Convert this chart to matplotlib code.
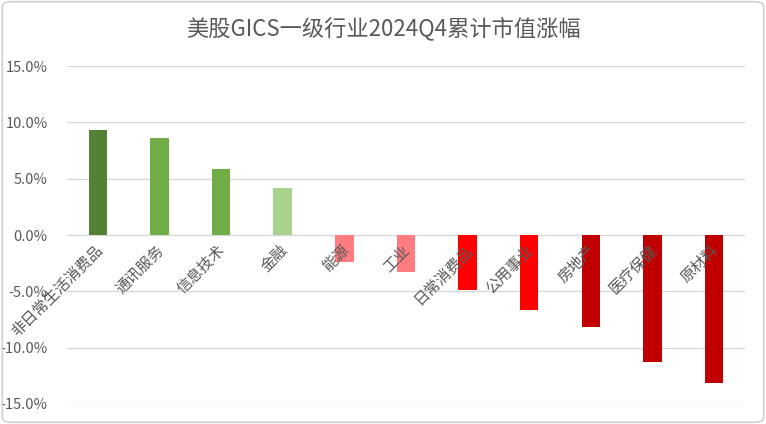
import matplotlib
matplotlib.use('Agg')
import matplotlib.pyplot as plt
from matplotlib.patches import FancyBboxPatch
from matplotlib.ticker import FuncFormatter, MultipleLocator
from matplotlib.transforms import offset_copy

plt.rcParams['font.family'] = ['Noto Sans CJK SC', 'DejaVu Sans']
plt.rcParams['axes.unicode_minus'] = False

# 数据 (单位: %)
sectors = ['非日常生活消费品', '通讯服务', '信息技术', '金融', '能源', '工业',
           '日常消费品', '公用事业', '房地产', '医疗保健', '原材料']
changes = [9.3, 8.6, 5.9, 4.2, -2.4, -3.3, -4.9, -6.7, -8.2, -11.3, -13.1]
bar_colors = ['#548235', '#70AD47', '#70AD47', '#A9D18E', '#FF7C80', '#FF7C80',
              '#FF0000', '#FF0000', '#C00000', '#C00000', '#C00000']
title = '美股GICS一级行业2024Q4累计市值涨幅'

fig = plt.figure(figsize=(7.66, 4.24), dpi=100)
ax = fig.add_axes([0.0875, 0.0472, 0.885, 0.7971])

# 外框 (圆角)
fig.patches.append(FancyBboxPatch((0.003, 0.004), 0.994, 0.992,
                                  boxstyle='round,pad=0,rounding_size=0.012',
                                  transform=fig.transFigure, fill=False,
                                  edgecolor='#D0D0D0', linewidth=1.2))

x = list(range(len(sectors)))
ax.bar(x, changes, width=0.3, color=bar_colors, zorder=3)

ax.set_xlim(-0.5, len(sectors) - 0.5)
ax.set_ylim(-15, 15)
ax.yaxis.set_major_locator(MultipleLocator(5))
ax.yaxis.set_major_formatter(FuncFormatter(lambda v, p: f'{v:.1f}%'))
ax.grid(axis='y', color='#D9D9D9', linewidth=1, zorder=0)
for s in ax.spines.values():
    s.set_visible(False)
ax.tick_params(axis='y', length=0, labelsize=10.5, labelcolor='#595959', pad=14)
ax.set_xticks([])

# 类别标签贴着0轴
for xi, name in zip(x, sectors):
    tr = offset_copy(ax.transData, fig=fig, x=2, y=-13, units='dots')
    ax.text(xi, 0, name, transform=tr, rotation=45, rotation_mode='anchor',
            ha='right', va='center', fontsize=11, color='#595959', zorder=4)

fig.text(0.5, 0.933, title, ha='center', va='center', fontsize=16, color='#595959')

fig.savefig('out.png', dpi=100)
